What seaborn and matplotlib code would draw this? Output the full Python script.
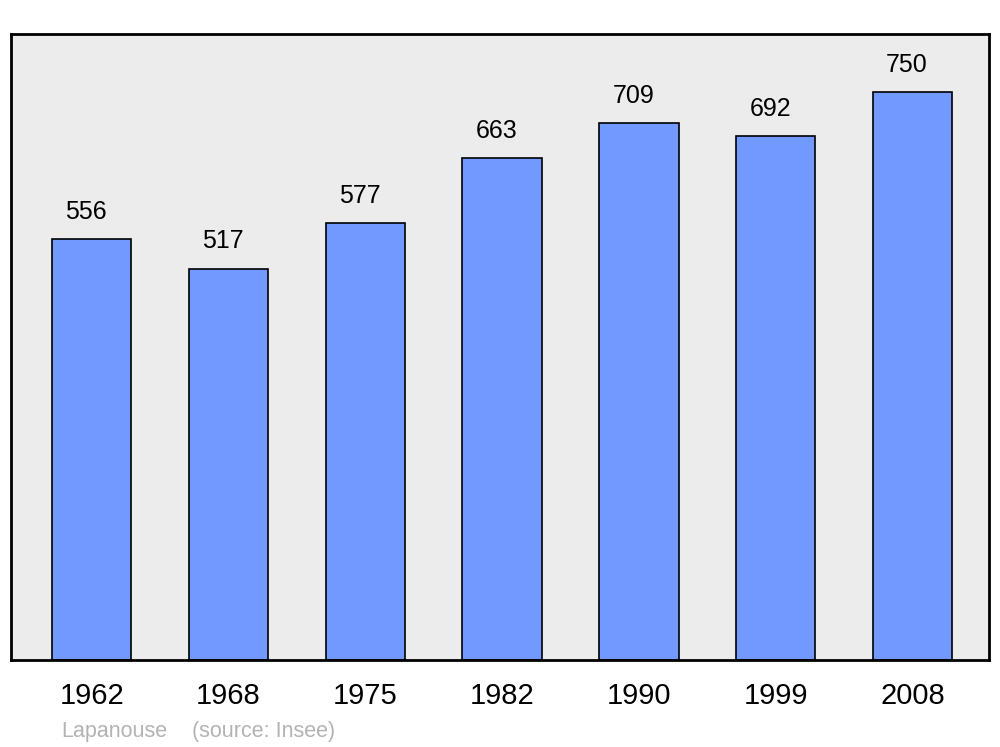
import pandas as pd
import seaborn as sns
import matplotlib.pyplot as plt

# Population data
years = ['1962', '1968', '1975', '1982', '1990', '1999', '2008']
population = [556, 517, 577, 663, 709, 692, 750]

df = pd.DataFrame({'year': years, 'pop': population})

sns.set_style('white')
plt.rcParams['font.family'] = ['Liberation Sans', 'DejaVu Sans']

fig = plt.figure(figsize=(10, 7.47), dpi=100)
ax = fig.add_axes([0.011, 0.1165, 0.978, 0.838])
ax.set_facecolor('#ececec')

sns.barplot(data=df, x='year', y='pop', color='#7199ff', saturation=1,
            width=0.58, edgecolor='black', linewidth=1.2, ax=ax)

# value labels above the bars
for i, v in enumerate(population):
    ax.annotate(str(v), (i, v), xytext=(-4, 11), textcoords='offset points',
                ha='center', va='bottom', fontsize=18, color='black')

ax.set_ylim(0, 827)
ax.set_xlim(-0.59, 6.56)
ax.set_yticks([])
ax.set_xlabel('')
ax.set_ylabel('')
ax.tick_params(axis='x', length=0, pad=16, labelsize=21, labelcolor='black')
for s in ax.spines.values():
    s.set_linewidth(2)
    s.set_color('black')

fig.text(0.061, 0.013, 'Lapanouse', fontsize=15.5, color='#b3b3b3')
fig.text(0.192, 0.013, '(source: Insee)', fontsize=15.5, color='#b3b3b3')

plt.savefig('out.png', dpi=100)
